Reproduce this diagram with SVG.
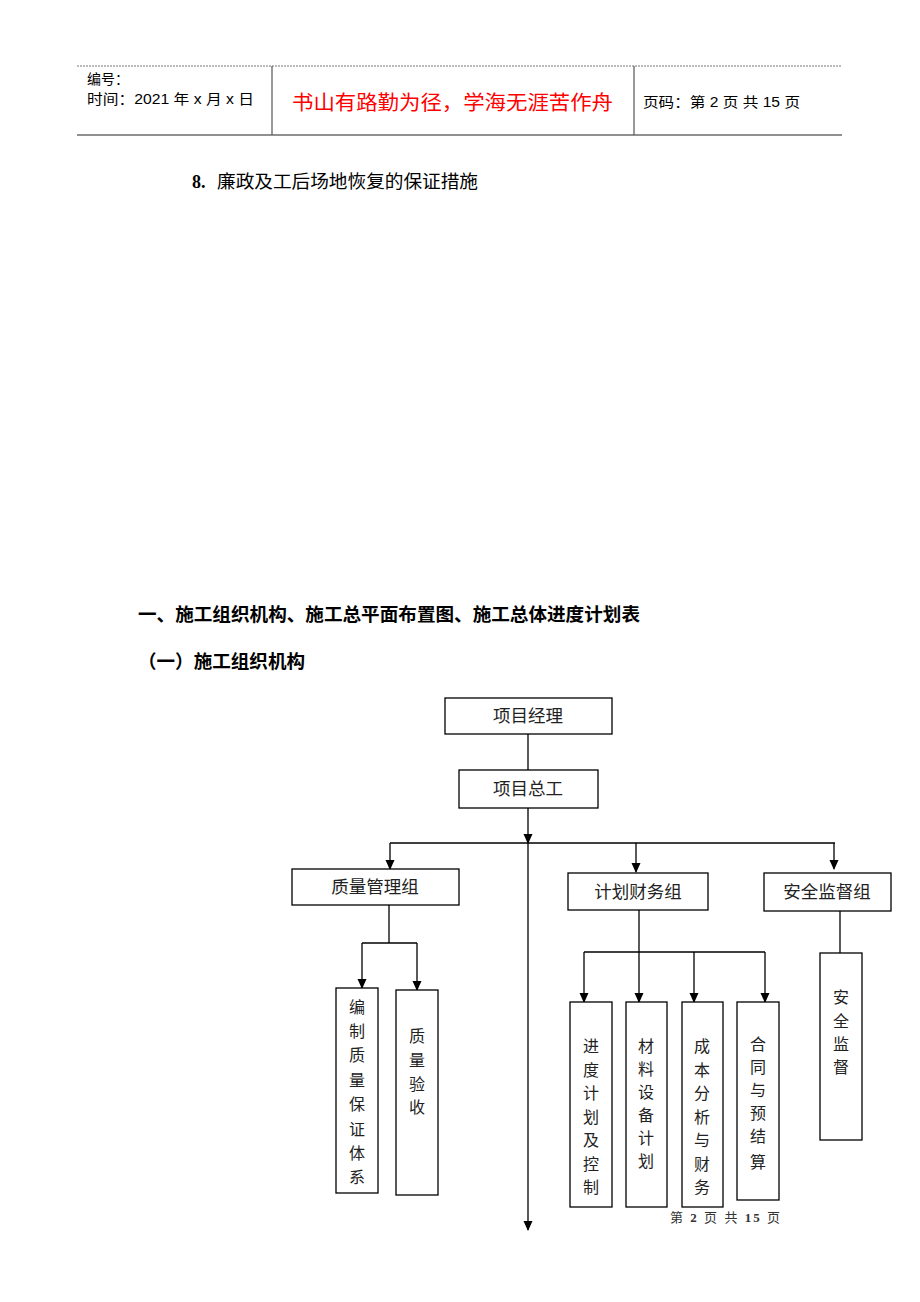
<svg xmlns="http://www.w3.org/2000/svg" width="920" height="1302" viewBox="0 0 920 1302">
<style>
.t{font-family:"Liberation Sans","Noto Sans CJK SC",sans-serif;fill:#000}
.box{fill:#fff;stroke:#000;stroke-width:1.3}
.ln{stroke:#000;stroke-width:1.3;fill:none}
.nl{font-family:"Liberation Serif","Noto Sans CJK SC",serif;font-size:17.5px;fill:#222;text-anchor:middle}
.vt{font-family:"Liberation Serif","Noto Sans CJK SC",serif;font-size:16px;fill:#222;text-anchor:middle}
</style>
<defs>
<marker id="ah" markerWidth="10" markerHeight="10" refX="9" refY="5" orient="auto" markerUnits="userSpaceOnUse">
<path d="M0,0.5 L10,5 L0,9.5 Z" fill="#000"/>
</marker>
</defs>
<rect width="920" height="1302" fill="#fff"/>
<g id="header">
<line x1="77" y1="66" x2="842" y2="66" stroke="#777" stroke-width="1.2" stroke-dasharray="2,1"/>
<line x1="77" y1="135" x2="842" y2="135" stroke="#222" stroke-width="1.2"/>
<line x1="272" y1="66" x2="272" y2="135" stroke="#555" stroke-width="1.2"/>
<line x1="634" y1="66" x2="634" y2="135" stroke="#555" stroke-width="1.2"/>
<text class="t" x="87" y="84" font-size="14">编号：</text>
<text class="t" x="87" y="104" font-size="14" textLength="167" lengthAdjust="spacingAndGlyphs">时间：2021 年 x 月 x 日</text>
<text x="292" y="110" font-family="Liberation Sans,'Noto Sans CJK SC',sans-serif" font-size="20" fill="#f00" textLength="321" lengthAdjust="spacingAndGlyphs">书山有路勤为径，学海无涯苦作舟</text>
<text class="t" x="643" y="107" font-size="14" textLength="157" lengthAdjust="spacingAndGlyphs">页码：第 2 页  共 15 页</text>
</g>
<g id="headings">
<text y="188" font-family="Liberation Serif,'Noto Sans CJK SC',serif" font-size="18" fill="#000"><tspan x="192" font-weight="bold">8.</tspan><tspan x="217" textLength="261" lengthAdjust="spacingAndGlyphs">廉政及工后场地恢复的保证措施</tspan></text>
<text class="t" x="138" y="621" font-size="18.5" font-weight="bold" textLength="502" lengthAdjust="spacingAndGlyphs">一、施工组织机构、施工总平面布置图、施工总体进度计划表</text>
<text class="t" x="138" y="668" font-size="18.5" font-weight="bold" textLength="167" lengthAdjust="spacingAndGlyphs">（一）施工组织机构</text>
</g>
<g id="connectors">
<line class="ln" x1="528" y1="734" x2="528" y2="770"/>
<line class="ln" x1="528" y1="808" x2="528" y2="843" marker-end="url(#ah)"/>
<line class="ln" x1="390" y1="843" x2="835" y2="843" stroke="#444"/>
<line class="ln" x1="528" y1="843" x2="528" y2="1230" marker-end="url(#ah)"/>
<line class="ln" x1="390" y1="843" x2="390" y2="869" marker-end="url(#ah)"/>
<line class="ln" x1="636" y1="843" x2="636" y2="872" marker-end="url(#ah)"/>
<line class="ln" x1="834" y1="843" x2="834" y2="869" marker-end="url(#ah)"/>
<line class="ln" x1="389" y1="905" x2="389" y2="943"/>
<line class="ln" x1="362" y1="943" x2="417" y2="943"/>
<line class="ln" x1="362" y1="943" x2="362" y2="988" marker-end="url(#ah)"/>
<line class="ln" x1="417" y1="943" x2="417" y2="990" marker-end="url(#ah)"/>
<line class="ln" x1="639" y1="910" x2="639" y2="952"/>
<line class="ln" x1="584" y1="952" x2="765" y2="952"/>
<line class="ln" x1="584" y1="952" x2="584" y2="1002" marker-end="url(#ah)"/>
<line class="ln" x1="639" y1="952" x2="639" y2="1002" marker-end="url(#ah)"/>
<line class="ln" x1="694" y1="952" x2="694" y2="1002" marker-end="url(#ah)"/>
<line class="ln" x1="765" y1="952" x2="765" y2="1002" marker-end="url(#ah)"/>
<line class="ln" x1="840" y1="911" x2="840" y2="953"/>
</g>
<g id="n-manager">
<rect class="box" x="445" y="698" width="167" height="36"/>
<text class="nl" x="528" y="722">项目经理</text>
</g>
<g id="n-chief">
<rect class="box" x="459" y="770" width="139" height="38"/>
<text class="nl" x="528" y="795">项目总工</text>
</g>
<g id="n-quality">
<rect class="box" x="292" y="869" width="167" height="36"/>
<text class="nl" x="375" y="893">质量管理组</text>
</g>
<g id="n-plan">
<rect class="box" x="568" y="873" width="140" height="37"/>
<text class="nl" x="638" y="898">计划财务组</text>
</g>
<g id="n-safety">
<rect class="box" x="764" y="873" width="127" height="38"/>
<text class="nl" x="827" y="898">安全监督组</text>
</g>
<g id="n-qsys">
<rect class="box" x="336" y="988" width="42" height="205"/>
<text class="vt"><tspan x="357" y="1013">编</tspan><tspan x="357" y="1037">制</tspan><tspan x="357" y="1061">质</tspan><tspan x="357" y="1086">量</tspan><tspan x="357" y="1110">保</tspan><tspan x="357" y="1135">证</tspan><tspan x="357" y="1159">体</tspan><tspan x="357" y="1183">系</tspan></text>
</g>
<g id="n-qacc">
<rect class="box" x="396" y="990" width="42" height="205"/>
<text class="vt"><tspan x="417" y="1042">质</tspan><tspan x="417" y="1066">量</tspan><tspan x="417" y="1090">验</tspan><tspan x="417" y="1113">收</tspan></text>
</g>
<g id="n-sched">
<rect class="box" x="570" y="1002" width="42" height="205"/>
<text class="vt"><tspan x="591" y="1052">进</tspan><tspan x="591" y="1076">度</tspan><tspan x="591" y="1099">计</tspan><tspan x="591" y="1123">划</tspan><tspan x="591" y="1146">及</tspan><tspan x="591" y="1170">控</tspan><tspan x="591" y="1193">制</tspan></text>
</g>
<g id="n-mat">
<rect class="box" x="626" y="1002" width="41" height="205"/>
<text class="vt"><tspan x="646" y="1052">材</tspan><tspan x="646" y="1075">料</tspan><tspan x="646" y="1098">设</tspan><tspan x="646" y="1121">备</tspan><tspan x="646" y="1144">计</tspan><tspan x="646" y="1167">划</tspan></text>
</g>
<g id="n-cost">
<rect class="box" x="682" y="1002" width="41" height="205"/>
<text class="vt"><tspan x="702" y="1052">成</tspan><tspan x="702" y="1076">本</tspan><tspan x="702" y="1099">分</tspan><tspan x="702" y="1123">析</tspan><tspan x="702" y="1146">与</tspan><tspan x="702" y="1170">财</tspan><tspan x="702" y="1193">务</tspan></text>
</g>
<g id="n-contract">
<rect class="box" x="737" y="1002" width="42" height="198"/>
<text class="vt"><tspan x="758" y="1050">合</tspan><tspan x="758" y="1073">同</tspan><tspan x="758" y="1096">与</tspan><tspan x="758" y="1119">预</tspan><tspan x="758" y="1142">结</tspan><tspan x="758" y="1168">算</tspan></text>
</g>
<g id="n-safe">
<rect class="box" x="820" y="953" width="42" height="187"/>
<text class="vt"><tspan x="841" y="1003">安</tspan><tspan x="841" y="1027">全</tspan><tspan x="841" y="1050">监</tspan><tspan x="841" y="1073">督</tspan></text>
</g>
<g id="footer">
<text x="670" y="1222" font-family="Liberation Serif,'Noto Sans CJK SC',serif" font-size="13" fill="#333" textLength="110" lengthAdjust="spacing">第 <tspan font-weight="bold">2</tspan> 页 共 <tspan font-weight="bold">15</tspan> 页</text>
</g>
</svg>
